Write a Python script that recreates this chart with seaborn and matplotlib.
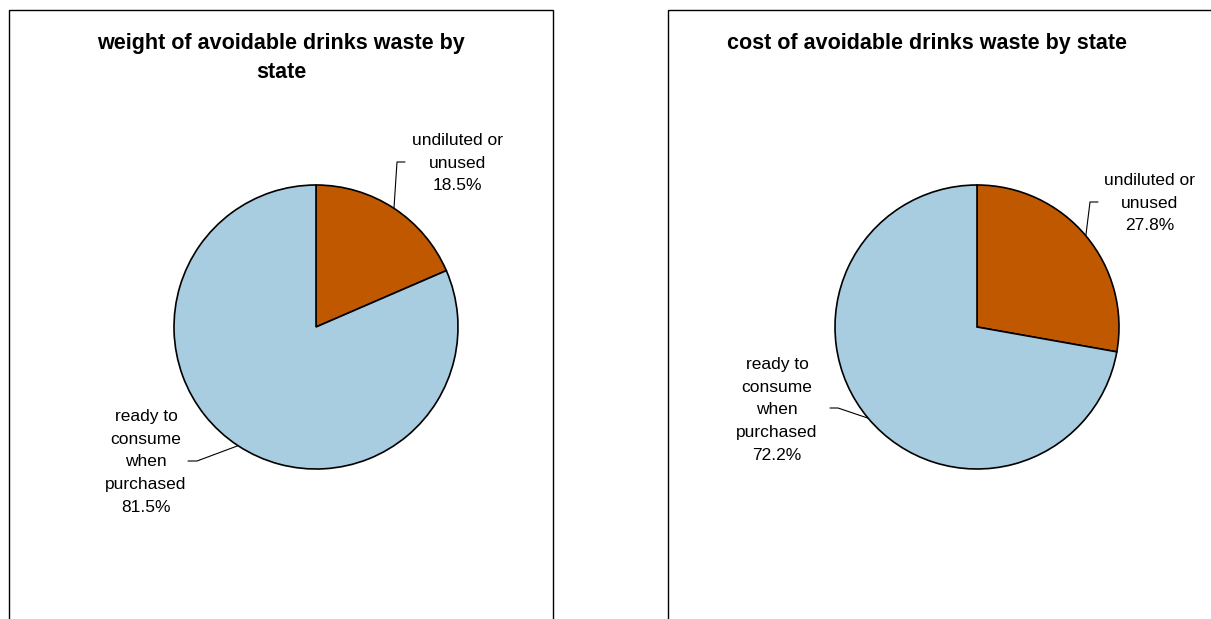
import numpy as np
import matplotlib.pyplot as plt
import seaborn as sns
from matplotlib.patches import Rectangle

# Data
categories = ['undiluted or\nunused', 'ready to\nconsume\nwhen\npurchased']
weight_share = [18.5, 81.5]
cost_share = [27.8, 72.2]
titles = ['weight of avoidable drinks waste by\nstate',
          'cost of avoidable drinks waste by state']
colors = ['#C05800', '#A8CDE1']

sns.set_theme(style='white')
plt.rcParams['font.family'] = ['Liberation Sans', 'DejaVu Sans']

# Layout (pixel coords, y downwards)
W, H = 1211, 619
panels = [(9, 10, 544), (668, 10, 560)]          # x, y, width of chart frame
centers = [(316, 327), (977, 327)]
radius = 142
title_pos = [(281, 58), (927, 43)]
label_pos = [[(457, 163), (146, 462)], [(1150, 203), (777, 410)]]
leader_start = [[(405, 162), (188, 461)], [(1098, 202), (830, 408)]]
leader_elbow = [[(397, 162), (197, 461)], [(1090, 202), (838, 408)]]

fig = plt.figure(figsize=(W / 100, H / 100), dpi=100)
ax = fig.add_axes([0, 0, 1, 1])
ax.set_xlim(0, W)
ax.set_ylim(H, 0)
ax.set_aspect('equal')
ax.axis('off')

for i, shares in enumerate([weight_share, cost_share]):
    px, py, pw = panels[i]
    ax.add_patch(Rectangle((px, py), pw, H + 20, fill=False,
                           edgecolor='black', linewidth=1.0))
    cx, cy = centers[i]
    # y axis is inverted, so counterclock in data = clockwise on screen
    wedges, _ = ax.pie(shares, colors=colors, startangle=-90, counterclock=True,
                       center=(cx, cy), radius=radius, frame=True,
                       wedgeprops=dict(edgecolor='black', linewidth=1.2))
    ax.text(*title_pos[i], titles[i], ha='center', va='center',
            fontsize=15.5, fontweight='bold', linespacing=1.45, color='black')
    for j, w in enumerate(wedges):
        mid = np.deg2rad((w.theta1 + w.theta2) / 2)
        ex, ey = cx + radius * np.cos(mid), cy + radius * np.sin(mid)
        sx, sy = leader_start[i][j]
        bx, by = leader_elbow[i][j]
        ax.plot([sx, bx, ex], [sy, by, ey], color='black', linewidth=0.8)
        ax.text(*label_pos[i][j], f'{categories[j]}\n{shares[j]:.1f}%',
                ha='center', va='center', fontsize=12.5, linespacing=1.65,
                color='black')

ax.set_xlim(0, W)
ax.set_ylim(H, 0)
ax.axis('off')
fig.savefig('out.png', dpi=100)
